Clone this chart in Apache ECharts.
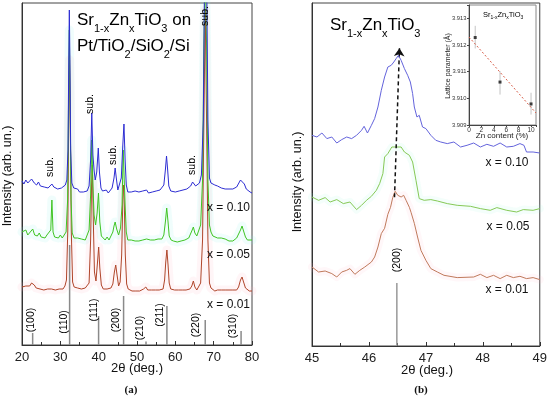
<!DOCTYPE html>
<html><head><meta charset="utf-8">
<script src="https://cdn.jsdelivr.net/npm/echarts@6/dist/echarts.min.js"></script>
<style>html,body{margin:0;padding:0;background:#fff}#c{width:550px;height:398px}</style>
</head><body><div id="c"></div>
<script>
// ---------- Panel (a): XRD patterns, 2theta vs intensity (arb. units, offset) ----------
const patternA_x010 = [[20,164],[20.5,161],[21,165],[21.5,162],[22,163],[22.5,166],[22.8,168],[23.2,162],[23.8,160],[24.3,163],[24.8,159],[25.3,161],[25.8,158],[26.3,160],[26.8,157],[27.3,159],[27.8,161],[28.3,158],[28.8,159],[29.3,156],[29.8,158],[30.3,157],[30.8,159],[31.3,160],[31.7,165],[32.0,195],[32.2,285],[32.35,335],[32.5,285],[32.7,195],[33.0,162],[33.5,157],[34,155],[34.5,156],[35,153],[35.5,155],[36,153],[36.5,155],[37,154],[37.5,159],[37.9,185],[38.2,232],[38.5,190],[38.8,175],[39.1,165],[39.5,173],[39.9,197],[40.2,173],[40.6,157],[41,154],[41.5,152],[42,155],[42.5,152],[43,154],[43.5,157],[44,167],[44.3,177],[44.6,167],[45,155],[45.5,157],[45.9,167],[46.3,200],[46.6,221],[46.9,185],[47.2,160],[47.6,153],[48,151],[48.5,153],[49,151],[49.5,154],[50,152],[50.5,153],[51,151],[51.5,154],[52,153],[52.5,155],[53,152],[53.5,154],[54,153],[54.5,155],[55,154],[55.5,156],[56,155],[56.5,156],[57,160],[57.4,175],[57.7,189],[58,175],[58.3,159],[58.8,154],[59.3,155],[60,153],[60.5,155],[61,154],[61.5,156],[62,155],[62.5,157],[63,156],[63.5,158],[64,159],[64.5,163],[64.9,163],[65.3,159],[65.8,160],[66.3,162],[66.8,170],[67.3,225],[67.6,360],[67.9,380],[68.2,360],[68.5,225],[68.9,167],[69.3,162],[69.8,161],[70.3,160],[71,159],[71.5,158],[72,157],[72.5,158],[73,156],[73.5,157],[74,156],[74.5,155],[75,156],[75.5,157],[76,158],[76.5,160],[77,165],[77.5,167],[78,161],[78.5,156],[79,155],[79.5,153],[80,152]];
const patternA_x005 = [[20,113],[20.5,111],[21,115],[21.5,110],[22,112],[22.8,116],[23.3,110],[24,109],[24.5,112],[25,108],[25.5,110],[26,107],[26.5,110],[27,108],[27.5,115],[27.8,145],[28.1,113],[28.5,108],[29,110],[29.5,107],[30,110],[30.5,107],[31,109],[31.5,113],[31.9,145],[32.15,245],[32.35,315],[32.55,245],[32.8,145],[33.1,112],[33.6,107],[34,105],[34.5,107],[35,105],[35.5,106],[36,104],[36.5,105],[37,107],[37.5,115],[37.9,150],[38.2,205],[38.5,160],[38.8,130],[39.2,120],[39.6,132],[39.95,152],[40.3,123],[40.7,109],[41.2,107],[41.7,105],[42.2,108],[42.7,105],[43.2,109],[43.7,113],[44.0,119],[44.3,123],[44.7,116],[45.2,110],[45.7,117],[46.1,140],[46.4,195],[46.6,197],[46.9,140],[47.2,113],[47.6,105],[48,103],[48.5,105],[49,103],[49.5,104],[50,102],[50.5,104],[51,103],[51.5,105],[52,103],[52.5,106],[53,104],[53.5,105],[54,103],[54.5,105],[55,104],[55.5,106],[56,105],[56.5,106],[57,110],[57.4,123],[57.75,137],[58.1,123],[58.4,109],[58.9,105],[59.5,104],[60,105],[60.5,103],[61,105],[61.5,104],[62,106],[62.5,105],[63,106],[63.5,107],[64,109],[64.4,115],[64.7,118],[65.1,112],[65.6,109],[66.1,111],[66.6,120],[67.1,165],[67.45,300],[67.8,380],[68.15,300],[68.5,165],[68.9,120],[69.3,113],[69.8,109],[70.3,108],[71,107],[71.5,106],[72,107],[72.5,105],[73,106],[73.5,105],[74,104],[74.5,105],[75,104],[75.5,106],[76,107],[76.5,109],[77,115],[77.4,119],[77.8,114],[78.3,108],[78.8,105],[79.3,104],[80,105]];
const patternA_x001 = [[20,58],[20.5,56],[21,59],[21.5,57],[22,59],[22.5,62],[22.8,64],[23.2,60],[23.7,57],[24.2,58],[24.7,56],[25.2,57],[25.7,55],[26.2,57],[26.7,56],[27.2,58],[27.7,56],[28.2,57],[28.7,55],[29.2,57],[29.7,56],[30.2,57],[30.7,56],[31.2,59],[31.6,65],[31.95,115],[32.2,225],[32.4,285],[32.6,225],[32.85,115],[33.2,63],[33.6,58],[34,56],[34.5,57],[35,55],[35.5,56],[36,55],[36.5,57],[37,56],[37.5,62],[37.9,105],[38.15,160],[38.35,180],[38.6,125],[38.9,73],[39.3,64],[39.7,83],[40.0,98],[40.3,77],[40.7,60],[41.2,56],[41.7,55],[42.2,56],[42.7,55],[43.2,57],[43.7,61],[44.1,73],[44.45,80],[44.8,70],[45.2,59],[45.6,63],[46.0,90],[46.3,145],[46.5,160],[46.7,140],[46.95,90],[47.3,61],[47.7,56],[48.2,55],[48.7,54],[49.2,55],[49.7,54],[50.2,55],[50.7,54],[51.2,55],[51.7,56],[52.3,58],[52.8,55],[53.3,54],[53.8,55],[54.3,54],[54.8,55],[55.3,54],[55.8,55],[56.3,54],[56.8,56],[57.2,65],[57.5,83],[57.8,95],[58.1,80],[58.4,62],[58.8,56],[59.3,54],[59.8,55],[60.3,54],[60.8,55],[61.3,54],[61.8,55],[62.3,54],[62.8,55],[63.3,54],[63.8,56],[64.3,59],[64.7,64],[65.1,58],[65.6,55],[66.1,56],[66.6,62],[67.1,105],[67.45,225],[67.8,335],[68.15,225],[68.5,105],[68.9,62],[69.3,57],[69.8,55],[70.3,54],[71,55],[71.5,54],[72,55],[72.5,54],[73,55],[73.5,54],[74,55],[74.5,54],[75,55],[75.5,54],[76,55],[76.5,58],[77,65],[77.4,68],[77.8,63],[78.3,57],[78.8,55],[79.3,54],[80,54]];
// reference (stick) pattern
const refPeaks  = [22.78, 32.42, 39.98, 46.5, 52.35, 57.8, 67.8, 77.15];
const refHeight = [12, 100, 29, 49, 3.5, 39, 25, 14];
const refLabels = ['(100)','(110)','(111)','(200)','(210)','(211)','(220)','(310)'];
const refLabelPos = [[22.48,25],[31.09,23],[38.78,35],[44.65,25],[50.78,17],[56.0,30],[65.39,20],[75.17,19]];
const subLabelPos = [[27.3,178],[37.74,241],[43.74,190],[64.35,180],[67.74,329]];

// ---------- Panel (b): (200) peak zoom ----------
const patternB_x010 = [[45.0,210.7],[45.087,209],[45.174,213],[45.261,207.4],[45.348,209],[45.435,203],[45.522,206.4],[45.609,209],[45.696,207.4],[45.783,210.7],[45.87,215.7],[45.915,219.7],[45.974,213],[46.043,220.7],[46.1,227.4],[46.158,239],[46.217,255.7],[46.275,269],[46.332,279],[46.391,280.7],[46.437,284],[46.478,287.4],[46.518,290.7],[46.565,285.7],[46.623,277.4],[46.68,270.7],[46.727,264],[46.767,252.4],[46.797,239],[46.843,229],[46.883,230.7],[46.941,219],[47.0,217.4],[47.087,210.7],[47.174,205.7],[47.261,204],[47.376,202.4],[47.492,204],[47.609,199],[47.723,200.7],[47.84,203],[47.957,199],[48.071,201.7],[48.188,199.7],[48.304,203],[48.42,199],[48.536,199.7],[48.652,202.4],[48.722,200.7],[48.767,194],[48.883,194],[49.0,193]];
const patternB_x005 = [[45.0,149],[45.115,145.7],[45.231,148.4],[45.318,144],[45.435,146.4],[45.55,142.4],[45.666,144],[45.783,136.4],[45.87,140.7],[45.957,145.7],[46.043,149.7],[46.13,155.7],[46.188,162.4],[46.245,172.4],[46.275,189],[46.332,192.4],[46.402,199],[46.565,199],[46.623,194],[46.71,190.7],[46.767,184],[46.826,165.7],[46.883,147.4],[46.97,145.7],[47.087,146.4],[47.202,145],[47.376,142.4],[47.55,140.7],[47.783,139.7],[47.957,137.4],[48.13,135.7],[48.246,138.4],[48.42,135.7],[48.594,134],[48.71,136.4],[48.883,135.7],[49.0,137.4]];
const patternB_x001 = [[45.0,79],[45.115,74],[45.231,75],[45.348,72.4],[45.435,69],[45.522,74],[45.609,75.7],[45.666,77.4],[45.753,71.7],[45.84,75.7],[45.927,79],[46.043,84],[46.1,89],[46.158,99],[46.217,112.4],[46.275,117.7],[46.332,131.7],[46.379,138.7],[46.419,148.7],[46.461,154.7],[46.506,150.7],[46.565,149],[46.61,150.7],[46.652,145.7],[46.71,138.7],[46.739,133.7],[46.797,122.7],[46.854,109],[46.913,95.7],[47.0,85.7],[47.087,77.4],[47.202,74],[47.318,70.7],[47.55,68.4],[47.84,69],[47.957,71.7],[48.071,68.4],[48.188,70.7],[48.304,67.4],[48.42,70.7],[48.536,68.4],[48.652,69.7],[48.767,67.4],[48.883,68.4],[49.0,66.4]];
const refB_peak = 46.49, refB_height = 63;
const shiftArrow = [[46.449,148.7],[46.536,297.7]];

// ---------- Inset: lattice parameter vs Zn content ----------
const znContent = [1, 5, 10];
const latticeParam = [3.91228, 3.91061, 3.90979];
const latticeErrLow  = [3.91187, 3.91014, 3.90939];
const latticeErrHigh = [3.91272, 3.91102, 3.91021];
const fitLine = [[0, 3.9123], [10.8, 3.90945]];

const F = 'Liberation Sans, Arial, Helvetica, sans-serif';
const chart = echarts.init(document.getElementById('c'));

function stickItem(color, lw){
  return function(params, api){
    const p1 = api.coord([api.value(0), 0]);
    const p2 = api.coord([api.value(0), api.value(1)]);
    return {type:'line', shape:{x1:p1[0],y1:p1[1],x2:p2[0],y2:p2[1]}, style:{stroke:color, lineWidth:lw}};
  };
}
function lineSeries(data, xi, color, w, z){
  return {type:'line', xAxisIndex:xi, yAxisIndex:xi, data:data, showSymbol:false, symbol:'none',
    lineStyle:{color:color, width:w}, clip:true, silent:true, z:z, animation:false};
}
function haloSeries(data, xi, color, w){
  return {type:'line', xAxisIndex:xi, yAxisIndex:xi, data:data, showSymbol:false, symbol:'none',
    lineStyle:{color:color, width:w, cap:'round', join:'round'}, clip:true, silent:true, z:1, animation:false};
}
function labelScatter(pos, texts, xi, size, color){
  return {type:'scatter', xAxisIndex:xi, yAxisIndex:xi, symbolSize:0, silent:true, z:10,
    data: pos.map((p,i)=>({value:p, name:texts[i]})),
    itemStyle:{color:'#000', opacity:1},
    label:{show:true, position:'inside', rotate:90, align:'center', verticalAlign:'middle', opacity:1,
      formatter:(p)=>p.name, fontSize:size, color:color, fontFamily:F, textBorderWidth:0, textBorderColor:'transparent'}};
}
const commonX = (min,max,interval,gi)=>({gridIndex:gi, type:'value', min:min, max:max, interval:interval,
  axisLine:{show:true, onZero:false, lineStyle:{color:'#333', width:1}},
  axisTick:{show:true, inside:true, length:4, lineStyle:{color:'#333'}},
  minorTick:{show:true, splitNumber:2, length:3, lineStyle:{color:'#333'}},
  axisLabel:{fontSize:13, margin:6, color:'#222', fontFamily:F},
  splitLine:{show:false}, minorSplitLine:{show:false}});
const commonY = (max,gi)=>({gridIndex:gi, type:'value', min:0, max:max,
  axisLine:{show:true, lineStyle:{color:'#333'}}, axisTick:{show:false}, axisLabel:{show:false}, splitLine:{show:false}});

// main text aligned to line top, subscript to line bottom -> subscript drop controlled by lh
const subRich = (fs, sfs, lh)=>({m:{fontSize:fs, fontFamily:F, color:'#111', lineHeight:lh, verticalAlign:'top'},
  s:{fontSize:sfs, fontFamily:F, color:'#111', lineHeight:lh, verticalAlign:'bottom'}});

const option = {
  backgroundColor:'#fff',
  animation:false,
  grid:[
    {left:22, top:3, width:230, height:342, show:true, borderColor:'#444', borderWidth:1, containLabel:false},
    {left:312, top:3, width:230, height:343, show:true, borderColor:'#444', borderWidth:1, containLabel:false},
    {left:469, top:5, width:67, height:120, show:true, borderColor:'#888', borderWidth:1, backgroundColor:'#fff', z:5}
  ],
  xAxis:[
    commonX(20,80,10,0),
    commonX(45,49,1,1),
    {gridIndex:2, type:'value', min:0, max:10.8, interval:2, z:6,
      axisLine:{show:true, onZero:false, lineStyle:{color:'#444'}},
      axisTick:{show:true, inside:false, length:2, lineStyle:{color:'#444'}},
      axisLabel:{fontSize:6.5, margin:1.5, color:'#333', fontFamily:F,
        formatter:(v)=> (Math.abs(v/2-Math.round(v/2))<1e-6 ? String(Math.round(v)) : '')},
      splitLine:{show:false}}
  ],
  yAxis:[
    commonY(342,0),
    commonY(343,1),
    {gridIndex:2, type:'value', min:3.909, max:3.9135, interval:0.001, z:6,
      axisLine:{show:true, lineStyle:{color:'#444'}},
      axisTick:{show:true, inside:false, length:2, lineStyle:{color:'#444'}},
      axisLabel:{fontSize:5.8, margin:2.5, color:'#333', fontFamily:F,
        formatter:(v)=> (Math.abs(v*1000-Math.round(v*1000))<1e-6 ? v.toFixed(3) : '')},
      splitLine:{show:false}}
  ],
  series:[
    // panel a
    haloSeries(patternA_x001, 0, 'rgba(255,175,195,0.13)', 9),
    haloSeries(patternA_x005, 0, 'rgba(140,240,235,0.13)', 9),
    {type:'custom', xAxisIndex:0, yAxisIndex:0, renderItem:stickItem('#8a8a8a',1.5), silent:true, z:2,
      data: refPeaks.map((p,i)=>[p, refHeight[i]]), encode:{x:0, y:1}},
    lineSeries(patternA_x001, 0, '#b0452a', 1, 3),
    lineSeries(patternA_x005, 0, '#3fc423', 1, 4),
    lineSeries(patternA_x010, 0, '#2d2dd2', 1, 5),
    labelScatter(refLabelPos, refLabels, 0, 10.5, '#000'),
    labelScatter(subLabelPos, subLabelPos.map(()=> 'sub.'), 0, 10.5, '#000'),
    // panel b
    haloSeries(patternB_x001, 1, 'rgba(255,175,195,0.10)', 8),
    haloSeries(patternB_x005, 1, 'rgba(150,245,220,0.10)', 8),
    {type:'custom', xAxisIndex:1, yAxisIndex:1, renderItem:stickItem('#999',1.5), silent:true, z:2,
      data:[[refB_peak, refB_height]], encode:{x:0, y:1}},
    lineSeries(patternB_x001, 1, '#c07a5c', 1, 3),
    Object.assign(lineSeries(patternB_x005, 1, '#86c956', 1, 4), {
      markLine:{silent:true, symbol:['none','arrow'], symbolSize:8, animation:false,
        lineStyle:{type:[4,3], color:'#111', width:1.5}, label:{show:false},
        data:[[{coord:shiftArrow[0]},{coord:shiftArrow[1]}]]}}),
    lineSeries(patternB_x010, 1, '#6464dc', 1, 5),
    labelScatter([[46.5,86]], ['(200)'], 1, 10.5, '#000'),
    // inset
    {type:'custom', xAxisIndex:2, yAxisIndex:2, z:7, silent:true,
      renderItem:(params, api)=>{
        const a = api.coord([api.value(0), api.value(1)]);
        const b = api.coord([api.value(0), api.value(2)]);
        return {type:'line', shape:{x1:a[0],y1:a[1],x2:b[0],y2:b[1]}, style:{stroke:'#c4c4c4', lineWidth:1}};
      },
      data: znContent.map((z,i)=>[z, latticeErrLow[i], latticeErrHigh[i]]), encode:{x:0, y:[1,2]}},
    {type:'line', xAxisIndex:2, yAxisIndex:2, data:fitLine, symbol:'none', z:7, silent:true,
      lineStyle:{color:'#d9634f', width:1, type:[2,2]}},
    {type:'scatter', xAxisIndex:2, yAxisIndex:2, z:8, silent:true, symbol:'rect', symbolSize:3,
      itemStyle:{color:'#111'}, data: znContent.map((z,i)=>[z, latticeParam[i]])}
  ],
  graphic:[
    {type:'text', x:8, y:176, rotation:Math.PI/2, z:20, style:{text:'Intensity (arb. un.)', font:'12.5px '+F, fill:'#111', align:'center', verticalAlign:'middle'}},
    {type:'text', x:298, y:182, rotation:Math.PI/2, z:20, style:{text:'Intensity (arb. un.)', font:'12.5px '+F, fill:'#111', align:'center', verticalAlign:'middle'}},
    {type:'text', x:137, y:368, z:20, style:{text:'2\u03b8 (deg.)', font:'13px '+F, fill:'#111', align:'center', verticalAlign:'middle'}},
    {type:'text', x:427, y:370, z:20, style:{text:'2\u03b8 (deg.)', font:'13px '+F, fill:'#111', align:'center', verticalAlign:'middle'}},
    {type:'text', x:131, y:390, z:20, style:{text:'(a)', font:'bold 11px Liberation Serif, Times New Roman, serif', fill:'#111', align:'center', verticalAlign:'middle'}},
    {type:'text', x:421, y:390, z:20, style:{text:'(b)', font:'bold 11px Liberation Serif, Times New Roman, serif', fill:'#111', align:'center', verticalAlign:'middle'}},
    {type:'text', x:77, y:12, z:20, style:{text:'{m|Sr}{s|1-x}{m|Zn}{s|x}{m|TiO}{s|3}{m| on}', rich:subRich(17,11,22), align:'left', verticalAlign:'top'}},
    {type:'text', x:77, y:38, z:20, style:{text:'{m|Pt/TiO}{s|2}{m|/SiO}{s|2}{m|/Si}', rich:subRich(17,11,22), align:'left', verticalAlign:'top'}},
    {type:'text', x:330, y:17, z:20, style:{text:'{m|Sr}{s|1-x}{m|Zn}{s|x}{m|TiO}{s|3}', rich:subRich(17,11,22), align:'left', verticalAlign:'top'}},
    {type:'text', x:483, y:11, z:20, style:{text:'{m|Sr}{s|1-x}{m|Zn}{s|x}{m|TiO}{s|3}', rich:subRich(7.5,5,9.5), align:'left', verticalAlign:'top'}},
    {type:'text', x:448, y:66, rotation:Math.PI/2, z:20, style:{text:'Lattice parameter (\u00c5)', font:'7px '+F, fill:'#222', align:'center', verticalAlign:'middle'}},
    {type:'text', x:502, y:136, z:20, style:{text:'Zn content (%)', font:'8px '+F, fill:'#222', align:'center', verticalAlign:'middle'}},
    {type:'text', x:250, y:208, z:20, style:{text:'x = 0.10', font:'12px '+F, fill:'#111', align:'right', verticalAlign:'middle'}},
    {type:'text', x:250, y:255, z:20, style:{text:'x = 0.05', font:'12px '+F, fill:'#111', align:'right', verticalAlign:'middle'}},
    {type:'text', x:250, y:305, z:20, style:{text:'x = 0.01', font:'12px '+F, fill:'#111', align:'right', verticalAlign:'middle'}},
    {type:'text', x:507, y:163, z:20, style:{text:'x = 0.10', font:'12px '+F, fill:'#111', align:'center', verticalAlign:'middle'}},
    {type:'text', x:508, y:227, z:20, style:{text:'x = 0.05', font:'12px '+F, fill:'#111', align:'center', verticalAlign:'middle'}},
    {type:'text', x:507, y:290, z:20, style:{text:'x = 0.01', font:'12px '+F, fill:'#111', align:'center', verticalAlign:'middle'}}
  ]
};
chart.setOption(option);
</script></body></html>
